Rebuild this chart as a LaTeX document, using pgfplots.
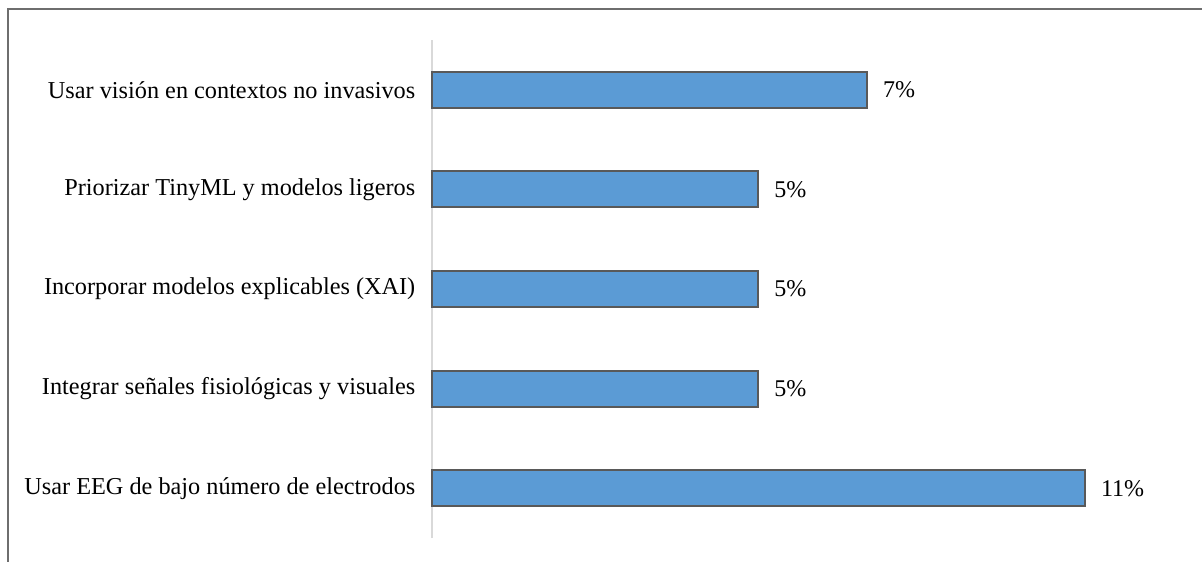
\documentclass[border=0pt]{standalone}
\usepackage{pgfplots}
\pgfplotsset{compat=1.18}
\usepackage{pgfplotstable}
\usepackage{fontspec}
\setmainfont{Liberation Serif}
\definecolor{barblue}{HTML}{5B9BD5}
\definecolor{baredge}{HTML}{595959}
\definecolor{axgray}{HTML}{D9D9D9}
\definecolor{framegray}{HTML}{6E6E6E}
\pgfplotstableread{
i v
0 10.91
1 5.45
2 5.45
3 5.45
4 7.27
}\datatable
\begin{document}
\begin{tikzpicture}
\useasboundingbox (0,0) rectangle (901.5pt,420.75pt);
\draw[color=framegray, line width=1.5pt] (6pt,-2pt) -- (6pt,414pt) -- (905pt,414pt);
\begin{axis}[
  at={(324pt,17.25pt)}, anchor=south west,
  scale only axis, width=538.6pt, height=373.5pt,
  xmin=0, xmax=12, ymin=-0.5, ymax=4.5,
  axis x line=none, axis y line=left,
  y axis line style={-, draw=axgray, line width=1.5pt},
  ytick={0,1,2,3,4},
  yticklabels={Usar EEG de bajo número de electrodos,
               Integrar señales fisiológicas y visuales,
               Incorporar modelos explicables (XAI),
               Priorizar TinyML y modelos ligeros,
               Usar visión en contextos no invasivos},
  major tick length=0pt,
  yticklabel style={font=\fontsize{18.2}{21}\selectfont, xshift=-9pt},
  clip=false,
]
\addplot[xbar, bar width=27pt, fill=barblue, draw=baredge, line width=1.5pt,
  point meta=x,
  nodes near coords={\pgfmathprintnumber[fixed,precision=0,assume math mode=true]{\pgfplotspointmeta}\%},
  every node near coord/.append style={font=\fontsize{18}{21}\selectfont, black, xshift=8pt}]
  table[x=v, y=i] {\datatable};
\end{axis}
\end{tikzpicture}
\end{document}
